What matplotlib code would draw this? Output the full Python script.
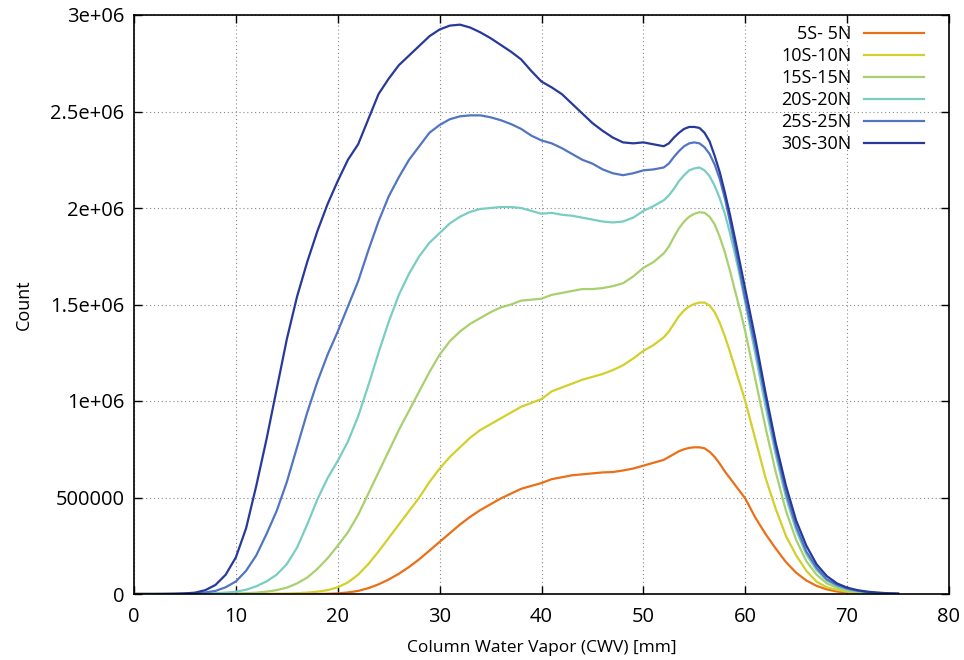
import matplotlib
matplotlib.use("Agg")
import matplotlib.pyplot as plt
import numpy as np

plt.rcParams['font.family'] = ['Open Sans', 'DejaVu Sans']

# CWV bins [mm]: unit steps, half steps around the peak region
cwv = (list(range(0, 53))
       + [52.5, 53, 53.5, 54, 54.5, 55, 55.5, 56, 56.5, 57, 57.5, 58, 58.5, 59, 59.5, 60]
       + list(range(61, 76)))

# counts in millions
s05 = ([0] * 19
       + [0.001, 0.003, 0.008, 0.016, 0.03, 0.05, 0.075, 0.105, 0.14, 0.18, 0.225,
          0.27, 0.315, 0.36, 0.40, 0.435, 0.465, 0.495, 0.52, 0.545, 0.56,
          0.575, 0.595, 0.605, 0.615, 0.62, 0.625, 0.63, 0.632, 0.64, 0.65,
          0.665, 0.68, 0.695]
       + [0.71, 0.725, 0.74, 0.75, 0.757, 0.76, 0.76, 0.755, 0.737, 0.71,
          0.675, 0.635, 0.60, 0.565, 0.53, 0.495]
       + [0.395, 0.31, 0.235, 0.165, 0.11, 0.07, 0.042, 0.024, 0.013,
          0.007, 0.004, 0.002, 0.001, 0, 0])

s10 = ([0] * 14
       + [0.001, 0.002, 0.004, 0.007, 0.012, 0.02,
          0.035, 0.06, 0.10, 0.155, 0.22, 0.29, 0.36, 0.43, 0.50, 0.58,
          0.65, 0.71, 0.76, 0.81, 0.85, 0.88, 0.91, 0.94, 0.97, 0.99,
          1.01, 1.05, 1.07, 1.09, 1.11, 1.125, 1.14, 1.16, 1.185, 1.22,
          1.26, 1.29, 1.33]
       + [1.36, 1.40, 1.44, 1.47, 1.49, 1.503, 1.51, 1.51, 1.495, 1.46,
          1.405, 1.335, 1.255, 1.17, 1.085, 1.0]
       + [0.80, 0.60, 0.44, 0.30, 0.20, 0.12, 0.064, 0.035, 0.021,
          0.012, 0.007, 0.004, 0.002, 0.001, 0])

s15 = ([0] * 9
       + [0.001, 0.002, 0.004, 0.007, 0.012, 0.02, 0.033, 0.055, 0.085, 0.13, 0.185,
          0.25, 0.32, 0.41, 0.52, 0.63, 0.74, 0.85, 0.95, 1.05, 1.15,
          1.24, 1.31, 1.36, 1.40, 1.43, 1.46, 1.485, 1.50, 1.52, 1.525,
          1.53, 1.55, 1.56, 1.57, 1.58, 1.58, 1.585, 1.595, 1.61, 1.645,
          1.69, 1.72, 1.765]
       + [1.80, 1.85, 1.895, 1.93, 1.955, 1.97, 1.978, 1.975, 1.955, 1.915,
          1.85, 1.77, 1.675, 1.57, 1.47, 1.36]
       + [1.11, 0.86, 0.63, 0.43, 0.28, 0.17, 0.10, 0.055, 0.033,
          0.019, 0.011, 0.006, 0.003, 0.002, 0.001])

s20 = ([0] * 6
       + [0.001, 0.002, 0.004, 0.007,
          0.012, 0.022, 0.04, 0.065, 0.10, 0.155, 0.24, 0.36, 0.49, 0.60,
          0.69, 0.79, 0.92, 1.08, 1.25, 1.41, 1.55, 1.66, 1.75, 1.82,
          1.87, 1.92, 1.955, 1.98, 1.995, 2.0, 2.005, 2.005, 2.0, 1.985,
          1.97, 1.975, 1.965, 1.96, 1.95, 1.94, 1.93, 1.925, 1.93, 1.95,
          1.985, 2.01, 2.04]
       + [2.065, 2.10, 2.14, 2.17, 2.195, 2.205, 2.21, 2.195, 2.165, 2.115,
          2.05, 1.97, 1.87, 1.76, 1.64, 1.51]
       + [1.24, 0.97, 0.72, 0.50, 0.33, 0.205, 0.124, 0.07, 0.041,
          0.024, 0.014, 0.008, 0.004, 0.002, 0.001])

s25 = ([0] * 4
       + [0.001, 0.002, 0.004, 0.008, 0.016, 0.035,
          0.065, 0.12, 0.20, 0.31, 0.43, 0.58, 0.76, 0.94, 1.10, 1.24,
          1.36, 1.49, 1.62, 1.78, 1.93, 2.06, 2.16, 2.25, 2.32, 2.39,
          2.43, 2.46, 2.475, 2.48, 2.48, 2.47, 2.455, 2.435, 2.41, 2.375,
          2.35, 2.335, 2.31, 2.28, 2.25, 2.23, 2.20, 2.18, 2.17, 2.18,
          2.195, 2.20, 2.21]
       + [2.23, 2.265, 2.295, 2.32, 2.335, 2.34, 2.335, 2.315, 2.28, 2.225,
          2.15, 2.05, 1.93, 1.80, 1.665, 1.53]
       + [1.28, 1.01, 0.75, 0.525, 0.35, 0.22, 0.136, 0.076, 0.047,
          0.028, 0.017, 0.010, 0.006, 0.003, 0.001])

s30 = ([0] * 3
       + [0.0005, 0.001, 0.003, 0.007, 0.02, 0.047, 0.10,
          0.19, 0.34, 0.56, 0.80, 1.06, 1.32, 1.54, 1.72, 1.88, 2.02,
          2.14, 2.25, 2.33, 2.46, 2.59, 2.67, 2.74, 2.79, 2.84, 2.89,
          2.925, 2.945, 2.95, 2.935, 2.91, 2.88, 2.845, 2.81, 2.77, 2.71,
          2.655, 2.625, 2.59, 2.54, 2.49, 2.44, 2.40, 2.365, 2.34, 2.335,
          2.34, 2.33, 2.32]
       + [2.335, 2.365, 2.39, 2.41, 2.42, 2.42, 2.415, 2.39, 2.345, 2.27,
          2.185, 2.08, 1.965, 1.84, 1.71, 1.58]
       + [1.32, 1.04, 0.78, 0.56, 0.38, 0.25, 0.154, 0.093, 0.055,
          0.033, 0.02, 0.012, 0.007, 0.004, 0.002])

labels = ['5S- 5N', '10S-10N', '15S-15N', '20S-20N', '25S-25N', '30S-30N']
colors = ['#ea7018', '#d3cf2b', '#a9d06e', '#79cdc2', '#5275c2', '#27399a']
series = [s05, s10, s15, s20, s25, s30]

xticks = [0, 10, 20, 30, 40, 50, 60, 70, 80]
yticks = [0, 500000, 1000000, 1500000, 2000000, 2500000, 3000000]
ytick_labels = ['0', '500000', '1e+06', '1.5e+06', '2e+06', '2.5e+06', '3e+06']

fig = plt.figure(figsize=(9.64, 6.6), dpi=100)
ax = fig.add_axes([134/964, 1-594/660, (949-134)/964, (594-15)/660])

for vals, lab, col in zip(series, labels, colors):
    ax.plot(cwv, np.array(vals) * 1e6, color=col, lw=1.6, label=lab,
            solid_joinstyle='round')

ax.set_xlim(0, 80)
ax.set_ylim(0, 3e6)
ax.set_xticks(xticks)
ax.set_xticklabels([str(t) for t in xticks])
ax.set_yticks(yticks)
ax.set_yticklabels(ytick_labels)
ax.tick_params(direction='in', length=6, width=1, top=True, right=True,
               labelsize=14.5, colors='black')
ax.tick_params(axis='x', pad=9)
ax.tick_params(axis='y', pad=7)
ax.grid(True, linestyle=(0, (1, 2.5)), color='#888888', lw=0.8)
for sp in ax.spines.values():
    sp.set_linewidth(1.2)

ax.set_xlabel('Column Water Vapor (CWV) [mm]', fontsize=12.5, labelpad=10)
ax.set_ylabel('Count', fontsize=13, labelpad=12)

leg = ax.legend(loc='upper right', bbox_to_anchor=(0.9693, 0.982),
                frameon=False, markerfirst=False,
                fontsize=13, handlelength=3.3, handletextpad=0.72,
                labelspacing=0.22, borderaxespad=0, borderpad=0)

fig.savefig('out.png', dpi=100)
